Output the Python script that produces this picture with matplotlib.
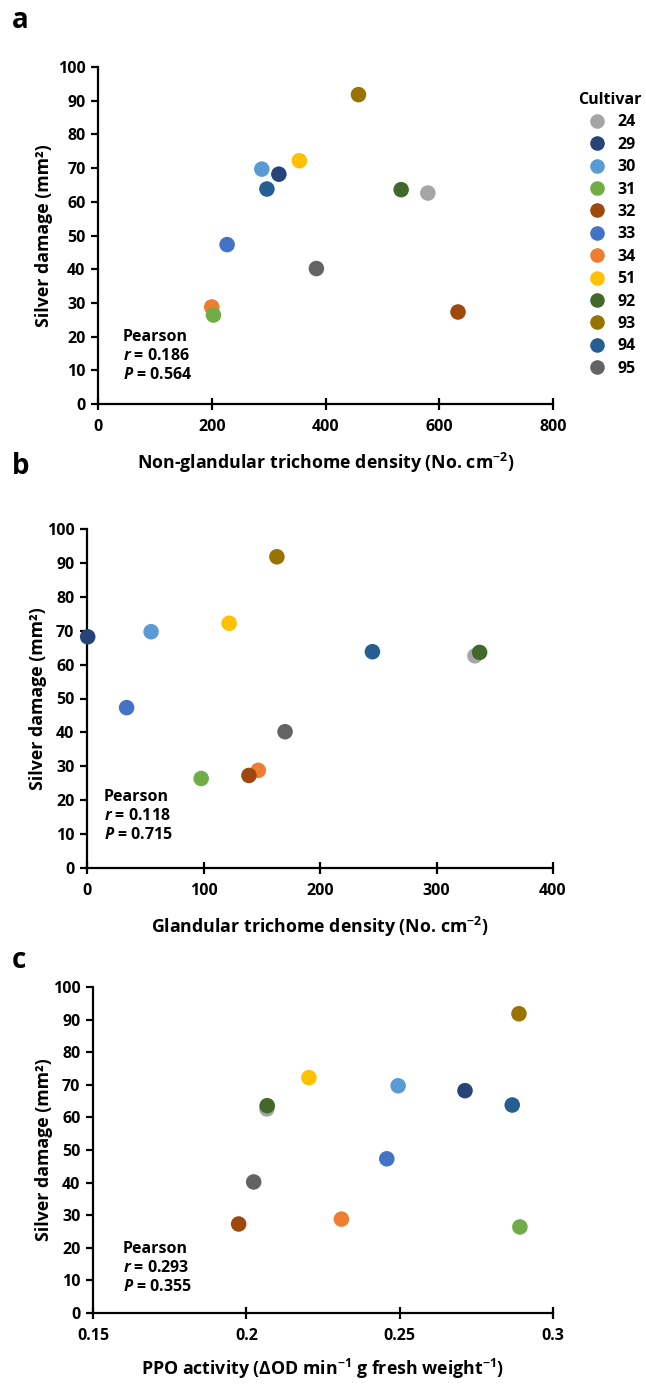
"""Silver damage vs. leaf traits, three stacked scatter panels."""

import matplotlib
matplotlib.use("Agg")
import matplotlib.pyplot as plt
from matplotlib.lines import Line2D

plt.rcParams["font.family"] = ["Open Sans", "DejaVu Sans"]
plt.rcParams["font.weight"] = "bold"
plt.rcParams["mathtext.fontset"] = "custom"
plt.rcParams["mathtext.rm"] = "Open Sans:bold"
plt.rcParams["mathtext.bf"] = "Open Sans:bold"
plt.rcParams["mathtext.it"] = "Open Sans:bold:italic"

# ---- data ----
cultivars = ["24", "29", "30", "31", "32", "33", "34", "51", "92", "93", "94", "95"]
colors = ["#A5A5A5", "#264478", "#5B9BD5", "#70AD47", "#9E480E", "#4472C4",
          "#ED7D31", "#FFC000", "#43682B", "#997300", "#255E91", "#636363"]
silver_damage = [62.6, 68.2, 69.7, 26.4, 27.3, 47.3, 28.8, 72.2, 63.6, 91.8, 63.8, 40.2]
nonglandular = [580, 318, 288, 203, 633, 227, 200, 354, 533, 458, 297, 384]
glandular = [333, 0.6, 55, 98, 139, 34, 147, 122, 337, 163, 245, 170]
ppo = [0.2067, 0.2713, 0.2495, 0.2892, 0.1975, 0.2458, 0.231, 0.2204,
       0.2068, 0.2889, 0.2867, 0.2024]
draw_order = [0, 1, 2, 6, 3, 4, 5, 7, 8, 9, 10, 11]

panels = [
    dict(letter="a", x=nonglandular, xlim=(0, 800), xticks=[0, 200, 400, 600, 800],
         xticklabels=["0", "200", "400", "600", "800"],
         xlabel=r"Non-glandular trichome density (No. cm$^{-2}$)",
         r="0.186", p="0.564"),
    dict(letter="b", x=glandular, xlim=(0, 400), xticks=[0, 100, 200, 300, 400],
         xticklabels=["0", "100", "200", "300", "400"],
         xlabel=r"Glandular trichome density (No. cm$^{-2}$)",
         r="0.118", p="0.715"),
    dict(letter="c", x=ppo, xlim=(0.15, 0.3), xticks=[0.15, 0.2, 0.25, 0.3],
         xticklabels=["0.15", "0.2", "0.25", "0.3"],
         xlabel=r"PPO activity (ΔOD min$^{-1}$ g fresh weight$^{-1}$)",
         r="0.293", p="0.355"),
]

W, H = 646, 1384
FS = 11.5      # tick labels, legend, Pearson block
FS_AX = 12.8   # axis titles
# axes boxes in pixels: left, top, right, bottom
boxes = [(98, 67, 553, 404), (87, 529, 553, 868), (93, 987, 553, 1313)]
letter_y = [20, 466, 961]
pearson_pos = [(0.055, 0.222), (0.036, 0.232), (0.065, 0.222)]
ylabel_x = [44, 38, 44]
xlabel_y = [463, 927, 1369]

fig = plt.figure(figsize=(W / 100, H / 100), dpi=100)

for i, pn in enumerate(panels):
    l, t, r, b = boxes[i]
    ax = fig.add_axes([l / W, 1 - b / H, (r - l) / W, (b - t) / H])
    for k in draw_order:
        ax.scatter(pn["x"][k], silver_damage[k], s=125, color=colors[k],
                   edgecolors="none", zorder=3, clip_on=False)
    ax.set_xlim(pn["xlim"])
    ax.set_ylim(0, 100)
    ax.set_xticks(pn["xticks"])
    ax.set_xticklabels(pn["xticklabels"])
    ax.set_yticks(range(0, 101, 10))
    for side in ("top", "right"):
        ax.spines[side].set_visible(False)
    for side in ("left", "bottom"):
        ax.spines[side].set_linewidth(1.6)
        ax.spines[side].set_color("black")
    ax.tick_params(axis="y", direction="out", length=5, width=1.6,
                   labelsize=FS, pad=4)
    ax.tick_params(axis="x", direction="inout", length=9, width=1.6,
                   labelsize=FS, pad=6)
    ax.set_xlabel(pn["xlabel"], fontsize=FS_AX, fontweight="bold")
    ax.xaxis.set_label_coords(0.5, (b - xlabel_y[i]) / (b - t))
    ax.xaxis.label.set_va("center")
    ax.set_ylabel("Silver damage (mm²)", fontsize=FS_AX, fontweight="bold")
    ax.yaxis.set_label_coords((ylabel_x[i] - l) / (r - l), 0.5)
    ax.yaxis.label.set_va("center")
    px, py = pearson_pos[i]
    ax.text(px, py, "Pearson\n$r$ = %s\n$P$ = %s" % (pn["r"], pn["p"]),
            transform=ax.transAxes, ha="left", va="top", fontsize=FS,
            fontweight="bold", linespacing=1.25)
    fig.text(12 / W, 1 - letter_y[i] / H, pn["letter"], fontsize=20,
             fontweight="bold", ha="left", va="center")

    if i == 0:
        handles = [Line2D([], [], marker="o", linestyle="none", markersize=10.5,
                          markerfacecolor=c, markeredgecolor="none")
                   for c in colors]
        leg = fig.legend(handles, cultivars, title="Cultivar", loc="upper left",
                         bbox_to_anchor=(578 / W, 1 - 92 / H), frameon=False,
                         borderpad=0, borderaxespad=0, fontsize=FS,
                         title_fontsize=FS, handletextpad=0.05,
                         labelspacing=0.4, handlelength=2.4)
        leg.get_title().set_fontweight("bold")
        leg._legend_box.align = "left"

fig.savefig("out.png", dpi=100, facecolor="white")
